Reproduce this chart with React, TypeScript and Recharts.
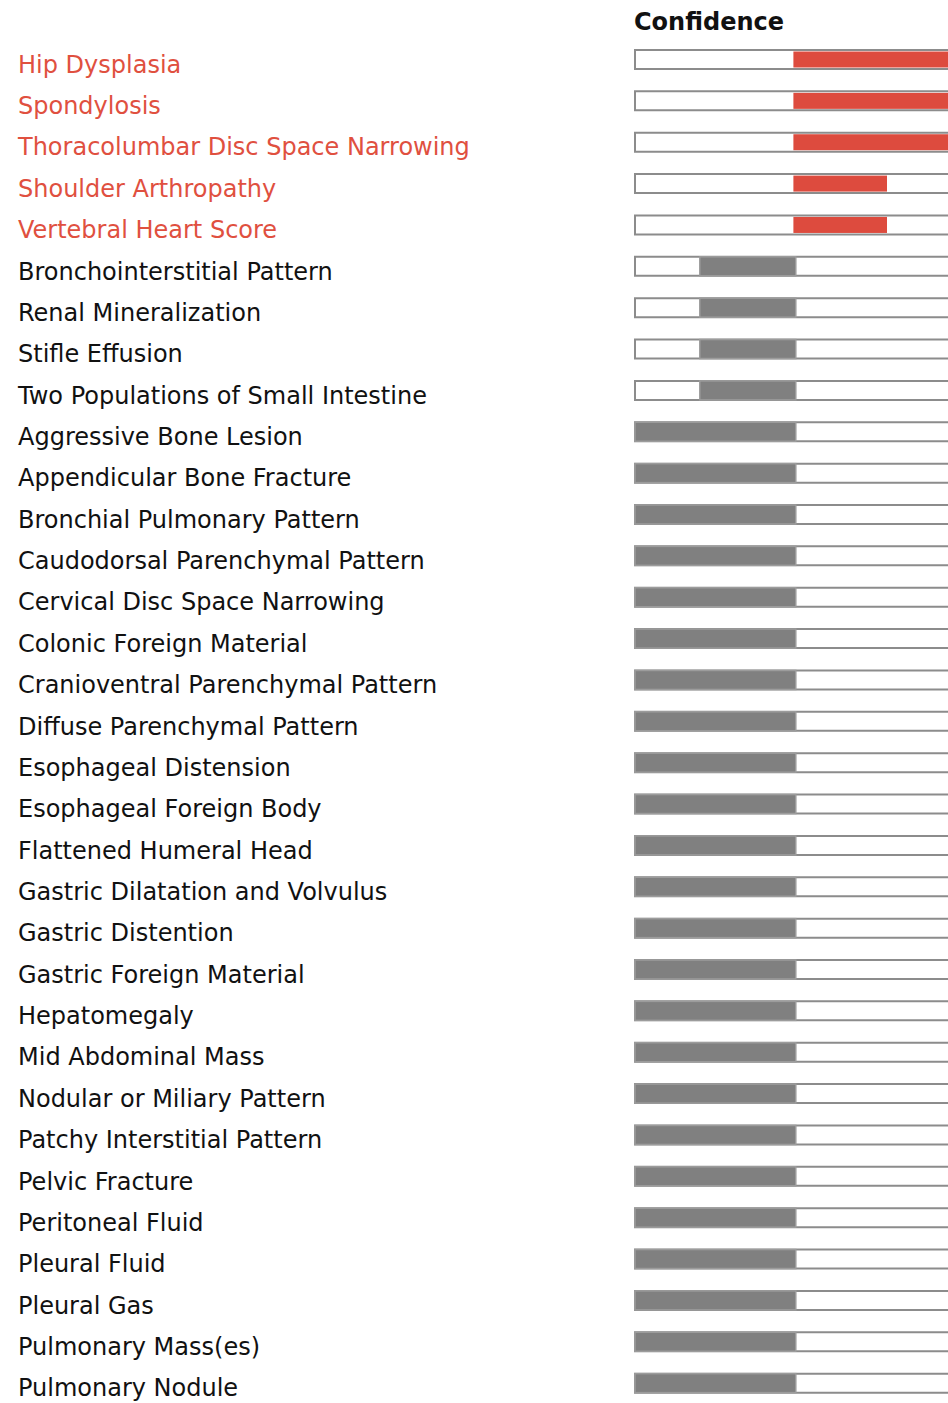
import { Bar, BarChart, XAxis, YAxis } from "recharts";

const FINDINGS = [
  "Hip Dysplasia",
  "Spondylosis",
  "Thoracolumbar Disc Space Narrowing",
  "Shoulder Arthropathy",
  "Vertebral Heart Score",
  "Bronchointerstitial Pattern",
  "Renal Mineralization",
  "Stifle Effusion",
  "Two Populations of Small Intestine",
  "Aggressive Bone Lesion",
  "Appendicular Bone Fracture",
  "Bronchial Pulmonary Pattern",
  "Caudodorsal Parenchymal Pattern",
  "Cervical Disc Space Narrowing",
  "Colonic Foreign Material",
  "Cranioventral Parenchymal Pattern",
  "Diffuse Parenchymal Pattern",
  "Esophageal Distension",
  "Esophageal Foreign Body",
  "Flattened Humeral Head",
  "Gastric Dilatation and Volvulus",
  "Gastric Distention",
  "Gastric Foreign Material",
  "Hepatomegaly",
  "Mid Abdominal Mass",
  "Nodular or Miliary Pattern",
  "Patchy Interstitial Pattern",
  "Pelvic Fracture",
  "Peritoneal Fluid",
  "Pleural Fluid",
  "Pleural Gas",
  "Pulmonary Mass(es)",
  "Pulmonary Nodule",
];

// confidence interval, lower and upper bound (0..1)
const LOW = [
  0.33, 0.33, 0.33, 0.33, 0.33,
  0.135, 0.135, 0.135, 0.135,
  0, 0, 0, 0, 0, 0, 0, 0, 0, 0, 0, 0, 0, 0, 0, 0, 0, 0, 0, 0, 0, 0, 0, 0,
];
const HIGH = [
  0.72, 0.72, 0.72, 0.525, 0.525,
  0.335, 0.335, 0.335, 0.335,
  0.335, 0.335, 0.335, 0.335, 0.335, 0.335, 0.335, 0.335, 0.335, 0.335,
  0.335, 0.335, 0.335, 0.335, 0.335, 0.335, 0.335, 0.335, 0.335, 0.335,
  0.335, 0.335, 0.335, 0.335,
];
const POSITIVE = FINDINGS.map((_, i) => i < 5);

const RED = "#DD4B3E";
const GREY = "#808080";
const FONT = "'DejaVu Sans', Verdana, sans-serif";

// the chart runs off the right edge, let the page be the frame
document.body.style.margin = "0";

const data = FINDINGS.map((name, i) => ({
  name,
  range: [LOW[i], HIGH[i]],
  positive: POSITIVE[i],
}));

function LabelTick(props: any) {
  const { y, payload, index } = props;
  return (
    <text
      x={10}
      y={y + 13}
      fontSize={24}
      fontFamily={FONT}
      fill={POSITIVE[index] ? "#E0503F" : "#111"}
    >
      {payload.value}
    </text>
  );
}

function RangeShape(props: any) {
  const { x, y, width, height, payload } = props;
  if (payload.positive) {
    return <rect x={x} y={y + 1.5} width={width} height={height - 3} fill={RED} />;
  }
  return (
    <rect
      x={x}
      y={y}
      width={width}
      height={height}
      fill={GREY}
      stroke="#9c9c9c"
      strokeWidth={1.5}
    />
  );
}

export default function App() {
  return (
    <div
      style={{
        position: "relative",
        width: 948,
        height: 1403,
        overflow: "hidden",
        background: "#fff",
      }}
    >
      <div
        style={{
          position: "absolute",
          left: 634,
          top: 8,
          fontFamily: FONT,
          fontWeight: "bold",
          fontSize: 24,
          color: "#111",
        }}
      >
        Confidence
      </div>
      <div style={{ position: "absolute", left: 8, top: 8 }}>
        <BarChart
          width={1107}
          height={1396}
          data={data}
          layout="vertical"
          margin={{ top: 31, right: 0, bottom: 0, left: 0 }}
        >
          <XAxis type="number" domain={[0, 1]} hide />
          <YAxis
            type="category"
            dataKey="name"
            width={627}
            axisLine={false}
            tickLine={false}
            interval={0}
            tick={<LabelTick />}
          />
          <Bar
            dataKey="range"
            barSize={19}
            isAnimationActive={false}
            background={{ fill: "#fff", stroke: "#8c8c8c", strokeWidth: 2 }}
            shape={<RangeShape />}
          />
        </BarChart>
      </div>
    </div>
  );
}
